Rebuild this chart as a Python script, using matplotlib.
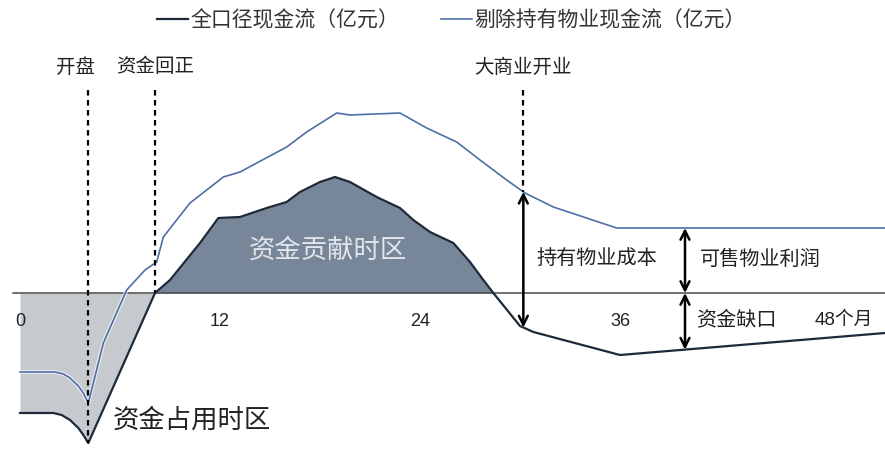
import numpy as np
import matplotlib
matplotlib.use("Agg")
import matplotlib.pyplot as plt
import matplotlib.patheffects as pe

plt.rcParams['font.family'] = ['Noto Sans CJK SC', 'DejaVu Sans']

# Months since land acquisition
months_total = [0, 2.0, 2.5, 3.0, 3.5, 3.8, 4.1, 8.1, 9.0, 10.8, 11.9, 13.2, 14.8, 16.0, 16.8,
                18.0, 18.9, 19.8, 21.4, 22.8, 23.6, 24.6, 26.0, 27.0, 27.8, 28.4,
                30.0, 30.8, 36.0, 51.9]
# Full-scope cash flow (亿元)
cash_total = [-12.0, -12.0, -12.2, -12.7, -13.5, -14.2, -15.0, 0.0, 1.3, 5.0, 7.5, 7.6, 8.5, 9.1, 10.1,
              11.1, 11.6, 11.1, 9.6, 8.5, 7.3, 6.1, 5.0, 3.1, 1.3, 0.0,
              -3.3, -3.9, -6.2, -4.0]

months_excl = [0, 2.1, 2.6, 3.0, 3.5, 3.8, 4.1, 5.0, 6.4, 7.5, 8.2, 8.6, 10.2, 12.2, 13.2, 16.0,
               17.2, 19.0, 19.8, 22.8, 24.4, 26.2, 27.6, 29.2, 30.3, 32.0, 35.8, 51.9]
# Cash flow excluding held properties (亿元)
cash_excl = [-7.9, -7.9, -8.1, -8.5, -9.3, -10.0, -11.0, -5.0, 0.3, 2.3, 3.1, 5.6, 9.0, 11.6, 12.1, 14.6,
             16.1, 18.0, 17.8, 18.0, 16.5, 15.1, 13.3, 11.3, 10.0, 8.6, 6.5, 6.5]

tick_months = [0, 12, 24, 36]
event_months = [4.1, 8.1, 30.2]
event_labels = ["开盘", "资金回正", "大商业开业"]
gap_month = 39.9

dark = "#1c2a3a"
blue = "#4f6ea8"

fig = plt.figure(figsize=(8.85, 4.54), dpi=100)
ax = fig.add_axes([0, 0, 1, 1])
ax.set_xlim(-1.2, 51.9)
ax.set_ylim(-16.1, 29.3)
ax.axis("off")

mt = np.array(months_total)
ct = np.array(cash_total)
# dense resampling for filling
xs = np.linspace(mt[0], mt[-1], 2000)
ys = np.interp(xs, mt, ct)
cross = event_months[1]
ax.fill_between(xs, 0, ys, where=(xs <= cross) & (ys <= 0), color="#c6c9cd", lw=0, zorder=1)
ax.fill_between(xs, 0, ys, where=(xs >= cross) & (ys >= 0), color="#788699", lw=0, zorder=1)

# zero line
ax.plot([-0.4, 51.9], [0, 0], color="#4a4a4a", lw=1.1, zorder=2)

ax.plot(months_excl, cash_excl, color=blue, lw=1.2, zorder=4,
        path_effects=[pe.Stroke(linewidth=3, foreground="white", alpha=0.6), pe.Normal()],
        label="剔除持有物业现金流（亿元）")
ax.plot(months_total, cash_total, color=dark, lw=1.6, zorder=5, label="全口径现金流（亿元）")

# event markers
top = 20.3
excl_at_open = np.interp(event_months[2], months_excl, cash_excl)
ends = [np.interp(event_months[0], months_total, cash_total), 0.0, excl_at_open]
label_offsets = [-0.75, 0.0, 0.0]
for m, lbl, e, off in zip(event_months, event_labels, ends, label_offsets):
    ax.plot([m, m], [top, e], color="black", lw=1.6, ls=(0, (2.5, 2)), zorder=6)
    ax.text(m + off, 22.6, lbl, ha="center", va="center", fontsize=14, color="#222222")

# arrows
def darrow(x, y0, y1):
    ax.annotate("", xy=(x, y0), xytext=(x, y1),
                arrowprops=dict(arrowstyle="<->", color="black", lw=1.8,
                                mutation_scale=16, shrinkA=0, shrinkB=0), zorder=7)

m_open = event_months[2]
darrow(m_open, np.interp(m_open, months_excl, cash_excl), np.interp(m_open, months_total, cash_total))
darrow(gap_month, np.interp(gap_month, months_excl, cash_excl), 0)
darrow(gap_month, 0, np.interp(gap_month, months_total, cash_total))

# tick labels
for m in tick_months:
    ax.text(m, -2.8, str(m), ha="center", va="center", fontsize=13,
            family=["Liberation Sans", "Noto Sans CJK SC"], color="#222222")
ax.text(47.7, -2.7, "48个月", ha="left", va="center", fontsize=13.5,
        family=["Liberation Sans", "Noto Sans CJK SC"], color="#222222")

# region labels
ax.text(18.5, 4.3, "资金贡献时区", ha="center", va="center", fontsize=19, color="#e2e6eb", zorder=6)
ax.text(10.3, -12.7, "资金占用时区", ha="center", va="center", fontsize=19, color="#222222", zorder=6)
ax.text(34.6, 3.4, "持有物业成本", ha="center", va="center", fontsize=14.5, color="#222222")
ax.text(44.4, 3.4, "可售物业利润", ha="center", va="center", fontsize=14.5, color="#222222")
ax.text(43.0, -2.7, "资金缺口", ha="center", va="center", fontsize=14.5, color="#222222")

handles, labels = ax.get_legend_handles_labels()
leg = ax.legend(handles[::-1], labels[::-1], loc="center", bbox_to_anchor=(0.51, 0.956),
                ncol=2, frameon=False, fontsize=15, handlelength=1.5, handletextpad=0.1,
                columnspacing=2.0, borderaxespad=0)
for t in leg.get_texts():
    t.set_color("#333333")

fig.savefig("out.png", dpi=100)
